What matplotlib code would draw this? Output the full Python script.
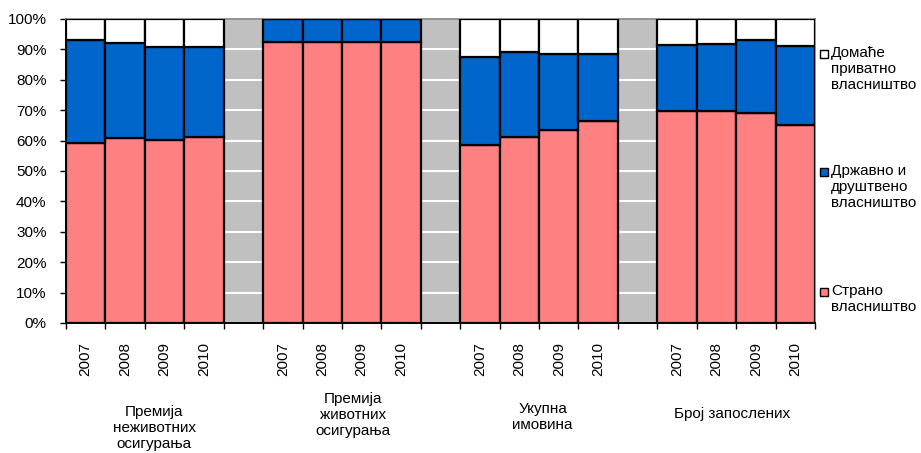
import matplotlib
matplotlib.use("Agg")
import matplotlib.pyplot as plt
from matplotlib.patches import Rectangle
import numpy as np

plt.rcParams['font.family'] = ['Liberation Sans', 'DejaVu Sans']

# Ownership structure of the insurance sector, shares in %
groups = ["Премија\nнеживотних\nосигурања", "Премија\nживотних\nосигурања",
          "Укупна\nимовина", "Број запослених"]
years = ["2007", "2008", "2009", "2010"]

foreign = [59.1, 60.8, 60.2, 61.3,
           92.4, 92.4, 92.4, 92.4,
           58.6, 61.3, 63.6, 66.5,
           69.7, 69.7, 69.2, 65.2]
state = [34.0, 31.2, 30.5, 29.4,
         7.6, 7.6, 7.6, 7.6,
         28.8, 27.7, 24.9, 22.0,
         21.6, 22.2, 23.8, 26.0]
domestic = [100 - f - s for f, s in zip(foreign, state)]

series_names = ["Страно\nвласништво", "Државно и\nдруштвено\nвласништво",
                "Домаће\nприватно\nвласништво"]
series_colors = ["#FF8080", "#0066CC", "#FFFFFF"]

FS = 11

fig = plt.figure(figsize=(9.21, 4.53), dpi=100)
ax = fig.add_axes([66 / 921, 1 - 323 / 453, (815 - 66) / 921, (323 - 19) / 453])

# slot layout: four bars per group, one empty slot between groups
n_per = len(years)
positions = []
for g in range(len(groups)):
    for i in range(n_per):
        positions.append(g * (n_per + 1) + i)
positions = np.array(positions)
n_slots = len(groups) * (n_per + 1) - 1

ax.set_facecolor("#C0C0C0")
ax.set_axisbelow(True)
ax.yaxis.grid(True, color="white", linewidth=1.5)

bottom = np.zeros(len(positions))
for vals, col in zip([foreign, state, domestic], series_colors):
    vals = np.array(vals)
    ax.bar(positions, vals, width=1.0, bottom=bottom, color=col,
           edgecolor="black", linewidth=1.6, zorder=3)
    bottom += vals

ax.set_xlim(-0.5, n_slots - 0.5)
ax.set_ylim(0, 100)
ax.set_yticks(np.arange(0, 101, 10))
ax.set_yticklabels([f"{v}%" for v in range(0, 101, 10)], fontsize=FS)
ax.tick_params(axis="y", length=4, width=1, color="black", pad=10)

ax.set_xticks(np.arange(-0.5, n_slots, 1.0))
ax.set_xticklabels([])
ax.tick_params(axis="x", which="major", length=4, width=1, color="black")
ax.set_xticks(positions, minor=True)
ax.set_xticklabels(years * len(groups), minor=True, rotation=90, fontsize=FS)
ax.tick_params(axis="x", which="minor", length=0, pad=14)

for side in ["top", "right"]:
    ax.spines[side].set_color("#808080")
    ax.spines[side].set_linewidth(1.2)
for side in ["left", "bottom"]:
    ax.spines[side].set_color("black")
    ax.spines[side].set_linewidth(1.4)

# group captions under the year labels
caption_y = [428, 415, 417, 414]
for g, (name, yc) in enumerate(zip(groups, caption_y)):
    xc = g * (n_per + 1) + (n_per - 1) / 2
    xf = fig.transFigure.inverted().transform(ax.transData.transform((xc, 0)))[0]
    offs = [0.010, 0.012, 0.004, -0.004][g]
    fig.text(xf + offs, 1 - yc / 453, name, ha="center", va="center",
             fontsize=FS, linespacing=1.15, color="black")

# legend drawn to the right of the plot area
legend_rows = [(2, 53.5), (1, 172), (0, 292)]
for idx, ytop in legend_rows:
    fig.patches.append(Rectangle((820 / 921, 1 - (ytop + 4) / 453), 8 / 921, 8 / 453,
                                 transform=fig.transFigure, facecolor=series_colors[idx],
                                 edgecolor="black", linewidth=1.0))
    fig.text(831 / 921, 1 - (ytop - 8) / 453, series_names[idx], ha="left", va="top",
             fontsize=FS, linespacing=1.2, color="black")

fig.savefig("out.png", dpi=100)
